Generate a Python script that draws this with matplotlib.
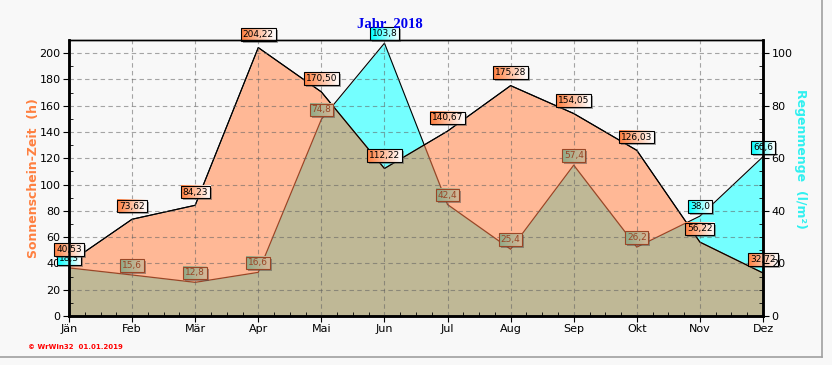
import numpy as np
import matplotlib
matplotlib.use("Agg")
from matplotlib import pyplot as plt
from matplotlib.patches import Rectangle
from matplotlib.lines import Line2D
from matplotlib.ticker import MultipleLocator

months = ['Jän', 'Feb', 'Mär', 'Apr', 'Mai', 'Jun', 'Jul', 'Aug', 'Sep', 'Okt', 'Nov', 'Dez']
sun_hours = [40.53, 73.62, 84.23, 204.22, 170.50, 112.22, 140.67, 175.28, 154.05, 126.03, 56.22, 32.72]
rain_mm = [18.3, 15.6, 12.8, 16.6, 74.8, 103.8, 42.4, 25.4, 57.4, 26.2, 38.0, 60.6]

ORANGE_FILL = '#FFB896'
CYAN_FILL = '#74FFFF'
OLIVE_FILL = '#BFB896'
BROWN = '#9A4626'


def fmt(v, nd):
    return f'{v:.{nd}f}'.replace('.', ',')


def envelopes(x, a, b):
    # piecewise min / max of two polylines, crossing points included
    px, lo, hi = [], [], []
    for i in range(len(x)):
        px.append(x[i]); lo.append(min(a[i], b[i])); hi.append(max(a[i], b[i]))
        if i == len(x) - 1:
            break
        d0 = a[i] - b[i]
        d1 = a[i + 1] - b[i + 1]
        if d0 * d1 < 0:
            t = d0 / (d0 - d1)
            v = a[i] + t * (a[i + 1] - a[i])
            px.append(x[i] + t * (x[i + 1] - x[i])); lo.append(v); hi.append(v)
    return np.array(px), np.array(lo), np.array(hi)


fig = plt.figure(figsize=(8.32, 3.65), dpi=100, facecolor='#F8F8F8')
ax = fig.add_axes([69 / 832, 49 / 365, 694 / 832, 276 / 365])
ax.set_facecolor('#F8F8F8')
ax2 = ax.twinx()

ax.set_xlim(0, 11)
ax.set_ylim(0, 210)
ax2.set_ylim(0, 105)
scale = ax.get_ylim()[1] / ax2.get_ylim()[1]

x = np.arange(len(months))
sun = np.array(sun_hours)
rain = np.array(rain_mm) * scale

ax.fill_between(x, 0, sun, color=ORANGE_FILL, lw=0, zorder=1)
ax.fill_between(x, 0, rain, color=CYAN_FILL, lw=0, zorder=1)
px, lo, hi = envelopes(x, sun, rain)
ax.fill_between(px, 0, lo, color=OLIVE_FILL, lw=0, zorder=1.2)
ax.plot(px, lo, color=BROWN, lw=0.9, zorder=2)
ax.plot(x, sun, color='black', lw=0.8, zorder=2.1)
ax.plot(px, hi, color='black', lw=0.8, zorder=2.2)

ax.set_axisbelow(False)
ax.grid(True, which='major', ls=(0, (4, 3)), color='#606060', lw=0.8, alpha=0.55)

ax.set_xticks(x)
ax.set_xticklabels(months, fontsize=8)
ax.xaxis.set_minor_locator(MultipleLocator(0.25))
ax.yaxis.set_major_locator(MultipleLocator(20))
ax.yaxis.set_minor_locator(MultipleLocator(10))
ax2.yaxis.set_major_locator(MultipleLocator(20))
ax2.yaxis.set_minor_locator(MultipleLocator(5))
ax.tick_params(which='major', direction='out', length=4, labelsize=8, pad=2)
ax.tick_params(which='minor', direction='in', length=3)
ax2.tick_params(which='major', direction='out', length=4, labelsize=8, pad=2)
ax2.tick_params(which='minor', direction='in', length=3)

for a in (ax, ax2):
    for side in ('left', 'bottom', 'right'):
        a.spines[side].set_linewidth(1.8)
    a.spines['top'].set_linewidth(1.0)

ax.set_ylabel('Sonnenschein-Zeit  (h)', color='#FF8040', fontsize=9, fontweight='bold')
ax.yaxis.set_label_coords(-29 / 694, 0.5)
ax2.set_ylabel('Regenmenge  (l/m²)', color='#30F0F0', fontsize=9, fontweight='bold', rotation=-90, va='center')
ax2.yaxis.set_label_coords(1 + 37 / 694, 0.57)

fig.text(390 / 832, 1 - 24 / 365, 'Jahr  2018', color='#0000EE', fontsize=10.5,
         fontweight='bold', family='Liberation Serif', ha='center', va='center')
fig.text(28 / 832, 1 - 347 / 365, '© WrWin32  01.01.2019', color='red', fontsize=5,
         fontweight='bold', ha='left', va='center')
fig.add_artist(Line2D([822 / 832, 822 / 832], [8 / 365, 1], transform=fig.transFigure,
                      color='#A0A0A0', lw=1.2))
fig.add_artist(Line2D([0, 822 / 832], [8 / 365, 8 / 365], transform=fig.transFigure,
                      color='#A0A0A0', lw=1.2))

labels = []
for i in range(len(months)):
    inside = rain[i] + 8 < sun[i]
    if inside:
        style = ('#90AA88', '#D8B898', BROWN, BROWN)
    else:
        style = ('#00FFFF', '#FFFFFF', 'black', 'black')
    labels.append((x[i], rain[i], fmt(rain_mm[i], 1), style, 5, 6.8))
for i in range(len(months)):
    labels.append((x[i], sun[i], fmt(sun_hours[i], 2), ('#FF8040', '#FFFFFF', 'black', 'black'), 8, 9.5))

texts = []
for xv, yv, txt, (c0, c1, tc, ec), z, off in labels:
    t = ax.annotate(txt, (xv, yv), xytext=(0, off), textcoords='offset points',
                    ha='center', va='center', fontsize=6.5, color=tc, zorder=z + 1,
                    annotation_clip=False,
                    bbox=dict(boxstyle='square,pad=0.2', fc='none', ec=ec, lw=0.8))
    texts.append((t, c0, c1, z))

fig.canvas.draw()
renderer = fig.canvas.get_renderer()
inv = ax.transData.inverted()
for t, c0, c1, z in texts:
    ext = t.get_bbox_patch().get_window_extent(renderer)
    (x0, y0), (x1, y1) = inv.transform([[ext.x0, ext.y0], [ext.x1, ext.y1]])
    (sx0, sy0), (sx1, sy1) = inv.transform([[ext.x0 + 2, ext.y0 - 2], [ext.x1 + 2, ext.y1 - 2]])
    ax.add_patch(Rectangle((sx0, sy0), sx1 - sx0, sy1 - sy0, color='#505050', alpha=0.5,
                           lw=0, zorder=z - 0.2, clip_on=False))
    a = np.array(matplotlib.colors.to_rgb(c0))
    b = np.array(matplotlib.colors.to_rgb(c1))
    grad = np.linspace(a, b, 32)[None, :, :]
    ax.imshow(grad, extent=(x0, x1, y0, y1), aspect='auto', zorder=z, clip_on=False,
              interpolation='bilinear')

ax.set_xlim(0, 11)
ax.set_ylim(0, 210)
fig.savefig('out.png', dpi=100, facecolor=fig.get_facecolor())
